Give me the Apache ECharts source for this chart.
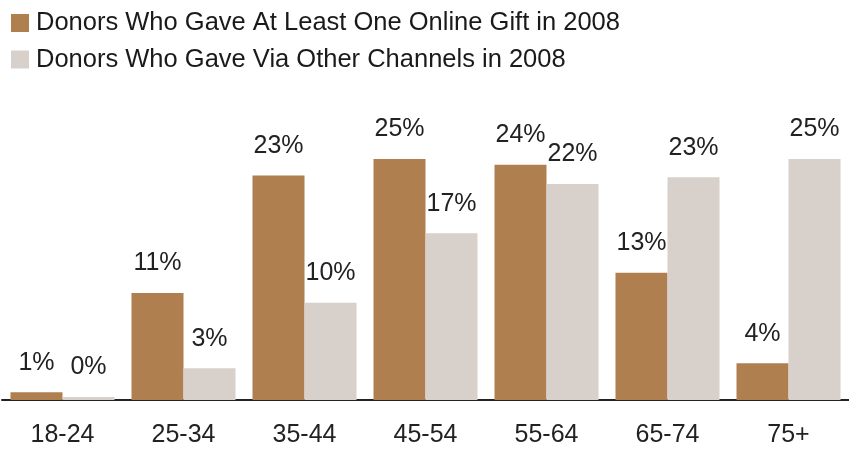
<!DOCTYPE html>
<html>
<head>
<meta charset="utf-8">
<script src="https://cdn.jsdelivr.net/npm/echarts@6/dist/echarts.min.js"></script>
<style>
  html, body { margin: 0; padding: 0; background: #fff; }
  #box { width: 849px; height: 450px; }
</style>
</head>
<body>
<div id="box"></div>
<script>
// age groups
const categories = ['18-24', '25-34', '35-44', '45-54', '55-64', '65-74', '75+'];
// % of donors
const onlineGift = [0.8, 11.1, 23.3, 25.0, 24.4, 13.2, 3.8];
const otherChannels = [0.3, 3.3, 10.1, 17.3, 22.4, 23.1, 25.0];
const seriesNames = ['Donors Who Gave At Least One Online Gift in 2008', 'Donors Who Gave Via Other Channels in 2008'];

const FONT = '"Liberation Sans", Arial, sans-serif';

let myecharts = echarts.init(document.getElementById('box'));

function barLabel() {
  return {
    show: true,
    position: 'top',
    distance: 17,
    color: '#222',
    fontFamily: FONT,
    fontSize: 25,
    formatter: p => Math.round(p.value) + '%'
  };
}

let option = {
  animation: false,
  textStyle: { fontFamily: FONT },
  legend: {
    orient: 'vertical',
    left: 11,
    top: 10,
    padding: 0,
    itemWidth: 18,
    itemHeight: 18,
    itemGap: 10.5,
    icon: 'rect',
    textStyle: { fontSize: 25.5, color: '#1a1a1a', fontFamily: FONT, padding: [0, 0, 0, 2] },
    data: seriesNames
  },
  grid: {
    left: 2,
    width: 852,
    top: 159,
    bottom: 50
  },
  xAxis: {
    type: 'category',
    data: categories,
    axisTick: { show: false },
    axisLine: { lineStyle: { color: '#222', width: 2 } },
    axisLabel: { color: '#222', fontSize: 25, fontFamily: FONT, margin: 23 }
  },
  yAxis: {
    type: 'value',
    min: 0,
    max: 25,
    show: false,
    splitLine: { show: false }
  },
  series: [
    {
      name: seriesNames[0],
      type: 'bar',
      data: onlineGift,
      barWidth: 52,
      barGap: '0%',
      itemStyle: { color: '#B07F50' },
      label: barLabel()
    },
    {
      name: seriesNames[1],
      type: 'bar',
      data: otherChannels,
      barWidth: 52,
      barGap: '0%',
      itemStyle: { color: '#D8D0CB' },
      label: barLabel()
    }
  ]
};
myecharts.setOption(option);

window.onresize = function () {
  myecharts.resize();
};
</script>
</body>
</html>
